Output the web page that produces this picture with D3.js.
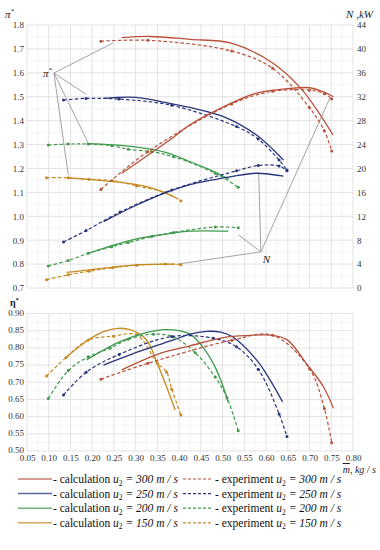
<!DOCTYPE html>
<html>
<head>
<meta charset="utf-8">
<script src="https://cdn.jsdelivr.net/npm/d3@7"></script>
<style>
  body { margin: 0; background: #fff; }
  svg { display: block; font-family: "Liberation Serif", "DejaVu Serif", serif; }
  .tick text { font-size: 9px; fill: #333; }
</style>
</head>
<body>
<svg id="chart" width="380" height="550"></svg>
<script>
// tick labels
const massTicks = [0.05, 0.10, 0.15, 0.20, 0.25, 0.30, 0.35, 0.40, 0.45, 0.50, 0.55, 0.60, 0.65, 0.70, 0.75, 0.80];
const piTicks = [0.7, 0.8, 0.9, 1.0, 1.1, 1.2, 1.3, 1.4, 1.5, 1.6, 1.7, 1.8];
const powerTicks = [0, 4, 8, 12, 16, 20, 24, 28, 32, 36, 40, 44];
const etaTicks = [0.50, 0.55, 0.60, 0.65, 0.70, 0.75, 0.80, 0.85, 0.90];

const speeds = [300, 250, 200, 150];
const colors = ["#b8503a", "#27347a", "#3f9a4c", "#c48a22"];

// pressure ratio pi*, [mass flow, value]
const piCalc300 = [[0.268, 1.747], [0.333, 1.752], [0.425, 1.740], [0.52, 1.724], [0.616, 1.640], [0.678, 1.539], [0.717, 1.445], [0.754, 1.340]];
const piExp300 = [[0.220, 1.732], [0.328, 1.736], [0.521, 1.691], [0.615, 1.619], [0.700, 1.454], [0.734, 1.358], [0.751, 1.273]];
const piCalc250 = [[0.226, 1.493], [0.30, 1.497], [0.371, 1.475], [0.425, 1.455], [0.502, 1.417], [0.578, 1.340], [0.617, 1.277], [0.640, 1.235]];
const piExp250 = [[0.134, 1.486], [0.186, 1.493], [0.262, 1.490], [0.383, 1.464], [0.532, 1.375], [0.582, 1.323], [0.630, 1.235], [0.648, 1.194]];
const piCalc200 = [[0.187, 1.305], [0.295, 1.291], [0.371, 1.266], [0.425, 1.228], [0.47, 1.195], [0.515, 1.155]];
const piExp200 = [[0.099, 1.298], [0.145, 1.302], [0.191, 1.302], [0.245, 1.295], [0.283, 1.280], [0.337, 1.270], [0.387, 1.249], [0.483, 1.180], [0.536, 1.121]];
const piCalc150 = [[0.141, 1.161], [0.249, 1.145], [0.325, 1.124], [0.371, 1.096], [0.391, 1.079]];
const piExp150 = [[0.095, 1.161], [0.145, 1.161], [0.193, 1.155], [0.247, 1.149], [0.302, 1.127], [0.368, 1.099], [0.404, 1.065]];

// power N, kW
const nCalc300 = [[0.268, 19.2], [0.379, 24.8], [0.425, 27.3], [0.502, 30.3], [0.578, 32.6], [0.655, 33.4], [0.70, 33.5], [0.732, 32.8], [0.755, 32.0]];
const nExp300 = [[0.220, 16.5], [0.328, 22.8], [0.521, 30.8], [0.615, 32.9], [0.700, 33.1], [0.734, 32.5], [0.751, 31.6]];
const nCalc250 = [[0.226, 11.1], [0.30, 13.8], [0.371, 16.0], [0.425, 17.3], [0.517, 18.6], [0.578, 19.2], [0.640, 18.7]];
const nExp250 = [[0.134, 7.7], [0.186, 9.6], [0.264, 12.7], [0.383, 16.4], [0.532, 19.6], [0.582, 20.5], [0.630, 20.4], [0.648, 19.6]];
const nCalc200 = [[0.187, 5.7], [0.295, 8.1], [0.387, 9.2], [0.425, 9.5], [0.513, 9.5]];
const nExp200 = [[0.099, 3.7], [0.145, 4.6], [0.191, 5.8], [0.245, 6.9], [0.283, 7.6], [0.337, 8.6], [0.387, 9.3], [0.483, 10.2], [0.536, 10.1]];
const nCalc150 = [[0.141, 2.6], [0.249, 3.5], [0.310, 3.9], [0.391, 4.0]];
const nExp150 = [[0.095, 1.4], [0.145, 2.2], [0.193, 2.8], [0.247, 3.4], [0.302, 3.8], [0.368, 4.0], [0.404, 3.9]];

// efficiency eta*
const etaCalc300 = [[0.268, 0.736], [0.356, 0.784], [0.425, 0.806], [0.502, 0.830], [0.56, 0.836], [0.609, 0.837], [0.648, 0.824], [0.694, 0.752], [0.732, 0.687], [0.755, 0.624]];
const etaExp300 = [[0.220, 0.709], [0.328, 0.755], [0.521, 0.822], [0.615, 0.837], [0.700, 0.739], [0.734, 0.624], [0.751, 0.524]];
const etaCalc250 = [[0.226, 0.750], [0.318, 0.794], [0.387, 0.823], [0.425, 0.840], [0.463, 0.848], [0.495, 0.846], [0.522, 0.833], [0.578, 0.765], [0.609, 0.707], [0.638, 0.643]];
const etaExp250 = [[0.134, 0.663], [0.186, 0.729], [0.262, 0.781], [0.383, 0.833], [0.479, 0.828], [0.532, 0.803], [0.582, 0.738], [0.630, 0.608], [0.648, 0.542]];
const etaCalc200 = [[0.187, 0.765], [0.264, 0.818], [0.318, 0.842], [0.364, 0.853], [0.40, 0.850], [0.425, 0.840], [0.456, 0.800], [0.486, 0.736], [0.513, 0.643]];
const etaExp200 = [[0.099, 0.653], [0.145, 0.734], [0.191, 0.774], [0.241, 0.799], [0.283, 0.825], [0.341, 0.840], [0.387, 0.832], [0.437, 0.786], [0.483, 0.715], [0.510, 0.655], [0.536, 0.559]];
const etaCalc150 = [[0.137, 0.770], [0.191, 0.823], [0.226, 0.847], [0.260, 0.857], [0.290, 0.852], [0.325, 0.823], [0.348, 0.760], [0.371, 0.687], [0.391, 0.619]];
const etaExp150 = [[0.095, 0.718], [0.140, 0.772], [0.191, 0.823], [0.249, 0.834], [0.302, 0.838], [0.350, 0.755], [0.371, 0.730], [0.383, 0.680], [0.404, 0.605]];

// leader lines for the pi* and N labels
const piLabelAt = [0.112, 1.599];
const piPointers = [[0.248, 1.725], [0.186, 1.51], [0.19, 1.31], [0.145, 1.172]];
const nLabelAt = [0.588, 6.05];
const nPointers = [[0.747, 31.8], [0.583, 19.3], [0.536, 8.9], [0.397, 4.0]];

const svg = d3.select("#chart");

const x = d3.scaleLinear().domain([0.05, 0.80]).range([27, 353]);
const yPi = d3.scaleLinear().domain([0.7, 1.8]).range([288, 25]);
const yN = d3.scaleLinear().domain([0, 44]).range([288, 25]);
const yEta = d3.scaleLinear().domain([0.5, 0.9]).range([451, 313.5]);

function mids(arr) {
    let out = [];
    for (let i = 0; i < arr.length - 1; i++) out.push((arr[i] + arr[i + 1]) / 2);
    return out;
}

// grid
function drawGrid(y, yTicks) {
    let g = svg.append("g");
    let [y0, y1] = y.range();
    let [x0, x1] = x.range();
    g.selectAll(".vmin").data(mids(massTicks)).enter().append("line")
        .attr("x1", d => x(d)).attr("x2", d => x(d)).attr("y1", y0).attr("y2", y1)
        .attr("stroke", "#efefef").attr("stroke-width", 0.7);
    g.selectAll(".hmin").data(mids(yTicks)).enter().append("line")
        .attr("y1", d => y(d)).attr("y2", d => y(d)).attr("x1", x0).attr("x2", x1)
        .attr("stroke", "#efefef").attr("stroke-width", 0.7);
    g.selectAll(".vmaj").data(massTicks).enter().append("line")
        .attr("x1", d => x(d)).attr("x2", d => x(d)).attr("y1", y0).attr("y2", y1)
        .attr("stroke", "#dcdcdc").attr("stroke-width", 0.8);
    g.selectAll(".hmaj").data(yTicks).enter().append("line")
        .attr("y1", d => y(d)).attr("y2", d => y(d)).attr("x1", x0).attr("x2", x1)
        .attr("stroke", "#dcdcdc").attr("stroke-width", 0.8);
}

drawGrid(yPi, piTicks);
drawGrid(yEta, etaTicks);

// axes (drop d3's sans-serif default so ticks use the serif face)
function cleanAxis(g) {
    g.attr("font-family", null).attr("font-size", null);
    g.select(".domain").remove();
}
svg.append("g").attr("transform", "translate(25,0)")
    .call(d3.axisLeft(yPi).tickValues(piTicks).tickSize(0).tickPadding(1).tickFormat(d3.format(".1f")))
    .call(cleanAxis);
svg.append("g").attr("transform", "translate(355,0)")
    .call(d3.axisRight(yN).tickValues(powerTicks).tickSize(0).tickPadding(2))
    .call(cleanAxis);
svg.append("g").attr("transform", "translate(25,-1)")
    .call(d3.axisLeft(yEta).tickValues(etaTicks).tickSize(0).tickPadding(1).tickFormat(d3.format(".2f")))
    .call(cleanAxis);
svg.append("g").attr("transform", "translate(0,452)")
    .call(d3.axisBottom(x).tickValues(massTicks).tickSize(0).tickPadding(3).tickFormat(d3.format(".2f")))
    .call(cleanAxis);

// axis titles
let piTitle = svg.append("text").attr("x", 5).attr("y", 18).attr("font-size", 11).attr("font-style", "italic").attr("fill", "#222");
piTitle.append("tspan").text("π");
piTitle.append("tspan").attr("font-size", 7).attr("dy", -5).text("*");

svg.append("text").attr("x", 373).attr("y", 18).attr("text-anchor", "end")
    .attr("font-size", 11).attr("font-style", "italic").attr("fill", "#222").text("N ,kW");

let etaTitle = svg.append("text").attr("x", 10).attr("y", 306).attr("font-size", 10).attr("font-weight", "bold").attr("fill", "#222");
etaTitle.append("tspan").text("η");
etaTitle.append("tspan").attr("font-size", 6).attr("dy", -4).text("*");

let mTitle = svg.append("text").attr("x", 376).attr("y", 473).attr("text-anchor", "end")
    .attr("font-size", 10).attr("font-style", "italic").attr("fill", "#222");
mTitle.append("tspan").attr("text-decoration", "overline").text("m");
mTitle.append("tspan").text(", kg / s");

// leader lines
let leaders = svg.append("g").attr("stroke", "#8c8c8c").attr("stroke-width", 0.8);
piPointers.forEach(p => {
    leaders.append("line")
        .attr("x1", x(piLabelAt[0])).attr("y1", yPi(piLabelAt[1]))
        .attr("x2", x(p[0])).attr("y2", yPi(p[1]));
});
nPointers.forEach(p => {
    leaders.append("line")
        .attr("x1", x(nLabelAt[0])).attr("y1", yN(nLabelAt[1]))
        .attr("x2", x(p[0])).attr("y2", yN(p[1]));
});

let piLabel = svg.append("text").attr("x", x(piLabelAt[0]) - 2).attr("y", yPi(piLabelAt[1]) + 4)
    .attr("text-anchor", "end").attr("font-size", 11).attr("font-style", "italic").attr("fill", "#222");
piLabel.append("tspan").text("π");
piLabel.append("tspan").attr("font-size", 7).attr("dy", -5).text("*");

svg.append("text").attr("x", x(nLabelAt[0]) + 2).attr("y", yN(nLabelAt[1]) + 11)
    .attr("font-size", 11).attr("font-style", "italic").attr("fill", "#222").text("N");

// curves
const line = (xs, ys) => d3.line().x(d => xs(d[0])).y(d => ys(d[1])).curve(d3.curveCatmullRom.alpha(0.5));

function drawCalc(data, ys, color) {
    svg.append("path").datum(data)
        .attr("d", line(x, ys))
        .attr("fill", "none").attr("stroke", color).attr("stroke-width", 1.3);
}

function drawExp(data, ys, color) {
    svg.append("path").datum(data)
        .attr("d", line(x, ys))
        .attr("fill", "none").attr("stroke", color).attr("stroke-width", 1.2)
        .attr("stroke-dasharray", "3.5,2.2");
    svg.append("g").selectAll("circle").data(data).enter().append("circle")
        .attr("cx", d => x(d[0])).attr("cy", d => ys(d[1])).attr("r", 1.5)
        .attr("fill", color);
}

const calcPi = [piCalc300, piCalc250, piCalc200, piCalc150];
const expPi = [piExp300, piExp250, piExp200, piExp150];
const calcN = [nCalc300, nCalc250, nCalc200, nCalc150];
const expN = [nExp300, nExp250, nExp200, nExp150];
const calcEta = [etaCalc300, etaCalc250, etaCalc200, etaCalc150];
const expEta = [etaExp300, etaExp250, etaExp200, etaExp150];

for (let i = speeds.length - 1; i >= 0; i--) {
    drawCalc(calcPi[i], yPi, colors[i]);
    drawExp(expPi[i], yPi, colors[i]);
    drawCalc(calcN[i], yN, colors[i]);
    drawExp(expN[i], yN, colors[i]);
    drawCalc(calcEta[i], yEta, colors[i]);
    drawExp(expEta[i], yEta, colors[i]);
}

// legend
let legend = svg.append("g").attr("font-size", 11.5).attr("fill", "#111");
function legendText(px, py, word, speed) {
    let t = legend.append("text").attr("x", px).attr("y", py + 4);
    t.append("tspan").text("- " + word + " ");
    t.append("tspan").attr("font-style", "italic").text("u");
    t.append("tspan").attr("font-size", 7.5).attr("dy", 2.5).text("2");
    t.append("tspan").attr("dy", -2.5).attr("font-style", "italic").text(" = " + speed + " m / s");
}
speeds.forEach((s, i) => {
    let ly = 479 + i * 14.6;
    legend.append("line").attr("x1", 18).attr("x2", 52).attr("y1", ly).attr("y2", ly)
        .attr("stroke", colors[i]).attr("stroke-width", 1.5).attr("opacity", 0.75);
    legendText(53, ly, "calculation", s);
    legend.append("line").attr("x1", 183).attr("x2", 213).attr("y1", ly).attr("y2", ly)
        .attr("stroke", colors[i]).attr("stroke-width", 1.2).attr("stroke-dasharray", "3,2");
    legendText(215, ly, "experiment", s);
});
</script>
</body>
</html>
